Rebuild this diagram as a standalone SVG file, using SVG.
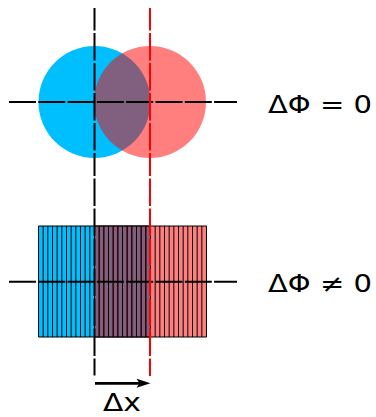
<svg xmlns="http://www.w3.org/2000/svg" width="376" height="417" viewBox="0 0 376 417">
<style>
.axis{stroke:#000;stroke-width:2;fill:none;stroke-dasharray:27 2.3}
.vaxis{stroke-width:2;fill:none;stroke-dasharray:27.5 2.5}
.stripe{stroke:#000;stroke-width:1;fill:none}
.lbl{font-family:"DejaVu Sans","Liberation Sans",sans-serif;font-size:24.5px;fill:#000}
</style>
<rect width="376" height="417" fill="#fff"/>
<g id="circles">
<circle id="blue-circle" cx="94.5" cy="102" r="56" fill="#00bfff"/>
<circle id="red-circle" cx="150" cy="102" r="56" fill="#ff0000" fill-opacity="0.5"/>
</g>
<g id="rects">
<g id="blue-rect">
<rect x="38.5" y="226" width="112" height="111" fill="#00bfff"/>
<path class="stripe" d="M38.5 226V337M43.17 226V337M47.83 226V337M52.5 226V337M57.17 226V337M61.83 226V337M66.5 226V337M71.17 226V337M75.83 226V337M80.5 226V337M85.17 226V337M89.83 226V337M94.5 226V337M99.17 226V337M103.83 226V337M108.5 226V337M113.17 226V337M117.83 226V337M122.5 226V337M127.17 226V337M131.83 226V337M136.5 226V337M141.17 226V337M145.83 226V337M150.5 226V337M38.5 226H150.5M38.5 337H150.5"/>
</g>
<g id="red-rect">
<rect x="94.5" y="226" width="112" height="111" fill="#ff0000" fill-opacity="0.5"/>
<path class="stripe" d="M94.5 226V337M99.17 226V337M103.83 226V337M108.5 226V337M113.17 226V337M117.83 226V337M122.5 226V337M127.17 226V337M131.83 226V337M136.5 226V337M141.17 226V337M145.83 226V337M150.5 226V337M155.17 226V337M159.83 226V337M164.5 226V337M169.17 226V337M173.83 226V337M178.5 226V337M183.17 226V337M187.83 226V337M192.5 226V337M197.17 226V337M201.83 226V337M206.5 226V337M94.5 226H206.5M94.5 337H206.5"/>
</g>
</g>
<g id="connectors">
<line class="axis" x1="9" y1="102" x2="237" y2="102"/>
<line class="axis" x1="9" y1="281.7" x2="237" y2="281.7"/>
<line class="vaxis" stroke="#000" x1="94.5" y1="8" x2="94.5" y2="176" stroke-dashoffset="5"/>
<line class="vaxis" stroke="#000" x1="94.5" y1="178.5" x2="94.5" y2="375.5"/>
<line class="vaxis" stroke="#ff0000" x1="150" y1="8" x2="150" y2="176" stroke-dashoffset="5"/>
<line class="vaxis" stroke="#ff0000" x1="150" y1="178.5" x2="150" y2="376"/>
<g id="arrow">
<line x1="95" y1="383.3" x2="140" y2="383.3" stroke="#000" stroke-width="2.7"/>
<polygon points="150.5,383.3 136.5,378.8 139.5,383.3 136.5,387.8" fill="#000"/>
</g>
</g>
<g id="labels">
<text class="lbl" x="268" y="113" textLength="104" lengthAdjust="spacingAndGlyphs">ΔΦ = 0</text>
<text class="lbl" x="268" y="292" textLength="104" lengthAdjust="spacingAndGlyphs">ΔΦ ≠ 0</text>
<text class="lbl" x="103" y="411" textLength="38" lengthAdjust="spacingAndGlyphs">Δx</text>
</g>
</svg>
